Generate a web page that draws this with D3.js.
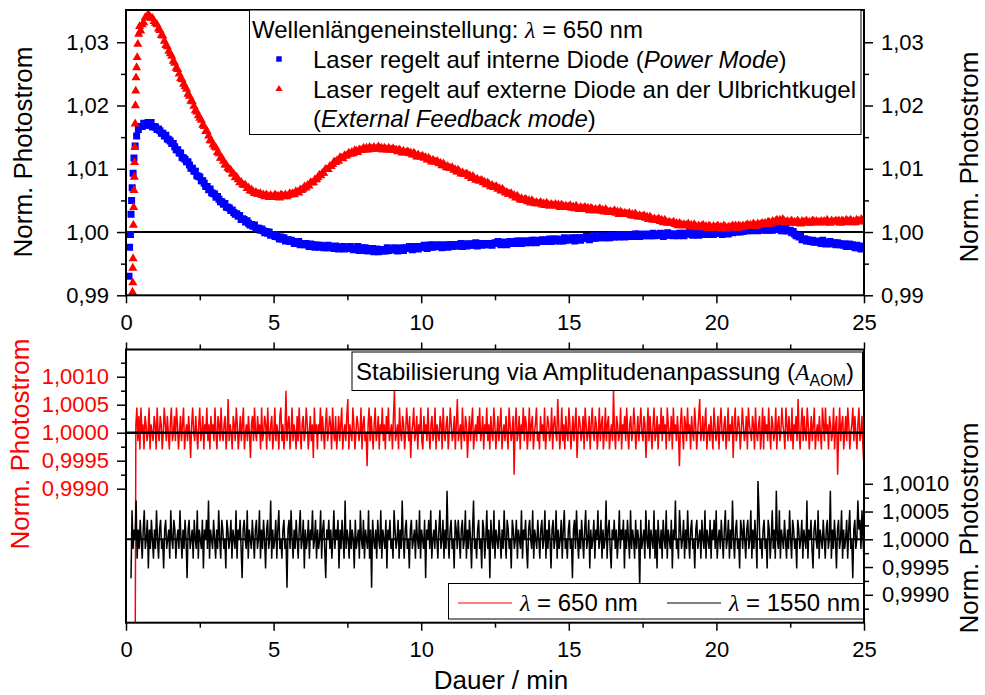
<!DOCTYPE html>
<html lang="de">
<head>
<meta charset="utf-8">
<script src="https://cdn.jsdelivr.net/npm/d3@7"></script>
<style>
  body { margin: 0; background: #fff; }
  svg { display: block; font-family: "Liberation Sans", Arial, sans-serif; }
  .axis path { display: none; }
  .axis line { stroke: #000; stroke-width: 1.5; }
  .axis text { font-size: 22px; fill: #000; font-family: "Liberation Sans", Arial, sans-serif; }
  .title { font-size: 26px; text-anchor: middle; }
  .legend { font-size: 24px; }
  .sym { font-family: "Liberation Serif", "DejaVu Serif", serif; font-style: italic; }
</style>
</head>
<body>
<div id="chart"></div>
<script>
// Warm-up at 650 nm. Values are deviations from 1 in units of 1e-4.
// The first seconds were logged faster and carry their own time stamps (min).
var riseBlueTime = [0.10, 0.12, 0.15, 0.17, 0.19, 0.21, 0.24, 0.27, 0.31, 0.36, 0.42];
var riseBlue = [-70, -24, -4, 28, 50, 70, 93, 117, 136, 152, 162];
var riseRedTime = [0.22, 0.23, 0.23, 0.24, 0.25, 0.26, 0.27, 0.28, 0.29, 0.30, 0.31, 0.32, 0.33, 0.34, 0.36, 0.38, 0.40, 0.43, 0.46];
var riseRed = [-95, -80, -57, -42, 11, 39, 66, 87, 110, 134, 171, 200, 223, 244, 260, 276, 297, 313, 325];

// afterwards one sample every 0.05 min from 0.5 min on
var sampleStart = 0.5, sampleStep = 0.05;
var powerMode = [
  167, 167, 172, 171, 169, 173, 169, 173, 166, 167, 166, 162, 163, 160, 156, 156, 152, 153, 147, 146,
  144, 140, 140, 135, 130, 130, 125, 125, 118, 117, 115, 111, 111, 106, 101, 101, 96, 96, 89, 88,
  87, 81, 81, 77, 72, 72, 67, 68, 62, 61, 60, 55, 56, 52, 48, 48, 44, 45, 39, 39,
  38, 34, 35, 31, 28, 29, 25, 26, 20, 21, 20, 16, 18, 14, 11, 12, 9, 11, 6, 6,
  6, 3, 5, 2, -1, 1, -2, 0, -5, -4, -4, -7, -5, -8, -11, -8, -11, -9, -14, -12,
  -12, -15, -13, -15, -18, -15, -18, -15, -20, -18, -18, -20, -18, -20, -23, -19, -22, -20, -24, -21,
  -21, -24, -21, -22, -25, -23, -25, -21, -25, -24, -23, -26, -22, -24, -27, -25, -25, -23, -27, -24,
  -25, -26, -23, -26, -28, -26, -27, -23, -29, -26, -25, -29, -25, -26, -30, -28, -28, -26, -31, -28,
  -27, -31, -28, -28, -30, -28, -30, -25, -29, -28, -27, -28, -25, -28, -30, -26, -27, -25, -29, -26,
  -25, -26, -23, -26, -28, -23, -25, -23, -27, -24, -23, -24, -21, -24, -26, -21, -24, -20, -24, -21,
  -22, -23, -20, -23, -25, -21, -22, -20, -24, -21, -20, -23, -20, -20, -22, -20, -22, -18, -23, -20,
  -19, -22, -19, -19, -21, -19, -21, -17, -22, -19, -18, -21, -18, -18, -20, -18, -20, -18, -21, -18,
  -17, -18, -15, -18, -20, -16, -18, -16, -20, -17, -15, -18, -15, -16, -18, -14, -16, -14, -18, -15,
  -14, -17, -14, -15, -17, -13, -15, -13, -17, -14, -14, -15, -12, -13, -15, -13, -15, -11, -15, -12,
  -11, -14, -11, -12, -14, -12, -14, -9, -13, -12, -11, -12, -9, -12, -14, -9, -11, -9, -13, -10,
  -9, -10, -7, -10, -12, -8, -10, -6, -10, -9, -8, -9, -6, -7, -9, -7, -9, -5, -9, -6,
  -5, -8, -5, -6, -8, -4, -6, -4, -8, -5, -4, -7, -4, -5, -7, -3, -5, -3, -7, -6,
  -5, -6, -3, -4, -6, -4, -6, -2, -6, -5, -4, -5, -2, -5, -7, -3, -5, -1, -5, -4,
  -3, -6, -3, -4, -6, -2, -4, -2, -6, -3, -2, -3, 0, -3, -5, -1, -3, -1, -5, -4,
  -3, -4, -1, -2, -4, 0, -2, 0, -4, -1, -1, -2, 1, -2, -4, 1, -1, 1, -3, 0,
  2, -1, 2, 2, 0, 2, 0, 5, 1, 2, 3, 2, 5, 4, 2, 6, 4, 6, 2, 5,
  6, 3, 6, 5, 3, 5, 3, 7, 3, 4, 5, 4, 7, 4, 2, 4, 2, 6, 2, 2,
  3, -1, 1, -3, -6, -5, -8, -7, -12, -11, -11, -14, -12, -14, -15, -13, -16, -14, -16, -15,
  -15, -18, -13, -16, -19, -17, -17, -15, -19, -18, -17, -20, -17, -18, -20, -19, -21, -19, -23, -20,
  -19, -23, -20, -23, -25, -21, -25, -22, -27, -24, -24
];
var feedbackMode = [
  318, 328, 331, 339, 339, 344, 341, 338, 338, 333, 330, 328, 321, 319, 311, 310, 302, 295, 293, 286,
  282, 278, 270, 267, 259, 257, 250, 243, 241, 234, 230, 226, 218, 215, 207, 206, 199, 192, 190, 184,
  180, 177, 169, 167, 159, 159, 152, 145, 144, 138, 135, 133, 126, 124, 117, 117, 112, 106, 106, 101,
  99, 98, 92, 92, 86, 87, 83, 78, 79, 75, 74, 74, 69, 70, 65, 67, 64, 61, 63, 60,
  60, 61, 58, 59, 56, 59, 57, 55, 58, 55, 56, 59, 56, 57, 54, 59, 57, 56, 59, 56,
  58, 61, 59, 61, 59, 64, 63, 62, 67, 66, 68, 72, 70, 74, 73, 78, 78, 78, 83, 83,
  86, 90, 89, 93, 93, 99, 99, 99, 104, 104, 107, 111, 110, 113, 112, 118, 117, 116, 121, 120,
  122, 125, 123, 126, 124, 129, 128, 126, 130, 129, 130, 133, 130, 133, 130, 134, 132, 131, 134, 131,
  132, 135, 132, 133, 130, 133, 131, 130, 133, 130, 130, 132, 129, 130, 127, 130, 128, 125, 128, 125,
  126, 127, 124, 125, 122, 125, 122, 119, 122, 119, 119, 120, 117, 118, 114, 117, 114, 111, 114, 111,
  111, 112, 108, 109, 105, 108, 105, 102, 104, 101, 101, 102, 98, 99, 95, 98, 95, 92, 94, 91,
  91, 92, 88, 89, 85, 88, 85, 82, 84, 81, 81, 82, 78, 79, 75, 78, 75, 72, 74, 71,
  71, 72, 68, 69, 65, 68, 65, 62, 63, 60, 60, 61, 57, 58, 54, 57, 54, 51, 53, 50,
  51, 52, 48, 50, 46, 50, 47, 45, 47, 45, 45, 47, 43, 45, 42, 46, 43, 41, 44, 42,
  42, 44, 41, 43, 39, 43, 41, 39, 41, 39, 40, 42, 38, 40, 37, 41, 38, 36, 39, 37,
  37, 39, 36, 38, 34, 38, 36, 34, 36, 34, 35, 37, 33, 35, 32, 36, 33, 31, 33, 31,
  32, 34, 30, 32, 28, 32, 30, 28, 30, 28, 28, 30, 26, 28, 25, 29, 26, 24, 26, 24,
  24, 26, 22, 24, 20, 24, 21, 19, 21, 19, 19, 21, 17, 19, 15, 19, 16, 14, 16, 14,
  14, 16, 12, 14, 10, 14, 12, 10, 12, 10, 11, 13, 9, 11, 8, 12, 9, 7, 10, 8,
  9, 11, 7, 9, 6, 10, 8, 6, 9, 7, 8, 10, 6, 8, 5, 10, 8, 5, 8, 7,
  8, 10, 8, 10, 6, 10, 9, 7, 10, 8, 10, 12, 9, 11, 9, 13, 11, 9, 13, 11,
  12, 14, 12, 14, 12, 16, 15, 13, 17, 15, 17, 19, 16, 19, 16, 20, 17, 15, 17, 15,
  16, 18, 14, 16, 14, 18, 15, 13, 17, 15, 16, 18, 14, 16, 14, 18, 17, 15, 17, 15,
  15, 17, 15, 17, 15, 19, 16, 14, 18, 16, 16, 18, 16, 18, 14, 18, 17, 15, 19, 17,
  17, 19, 15, 17, 15, 19, 18, 16, 20, 18, 18
];

// AOM amplitude stabilisation: ADC counts around 1, evenly spaced until 25 min
var aomEnd = 25;
var start650 = 0.30, step650 = 150e-6;
var aom650 = [
  -40, 1, 3, -1, 2, -2, 3, 0, 1, -2, 2, 1, -1, 0, 3, -2, 1, 0, -1, 2,
  1, -2, 3, 0, -1, 2, 1, -2, 0, 3, 1, -1, 2, 0, -2, 1, 3, -1, 0, 2,
  -1, 3, 1, -2, 0, 2, -1, 1, 3, -2, 0, 1, -1, 2, 0, -3, 1, 3, 0, -1,
  2, 0, -2, 1, 3, -1, 0, 2, -2, 1, 0, 3, -1, 1, -2, 2, 0, 1, -1, 3,
  0, -2, 2, 1, -1, 3, 0, -1, 1, 2, -2, 0, 4, -1, 1, 0, -2, 2, 1, -1,
  3, 1, -2, 0, 2, -1, 1, 3, -2, 0, 1, -1, 2, 0, -3, 1, 2, -1, 3, 0,
  -1, 2, 0, 1, -2, 3, -1, 0, 2, 1, -2, 3, 0, -1, 1, 2, -2, 0, 3, -1,
  1, 0, -2, 2, 3, -1, 1, -2, 0, 5, -1, 1, 2, -2, 0, 3, -1, 1, 0, -2,
  2, -1, 3, 0, -2, 1, 2, -1, 0, 3, 1, -2, 0, 2, -1, 1, -3, 3, 0, 1,
  -2, 1, 0, 3, -1, 2, 0, -2, 1, 3, -1, 0, 2, 1, -2, 3, 0, -1, 2, -2,
  0, 2, -1, 1, 3, -2, 0, 1, -1, 2, 4, -2, 1, 0, -1, 3, 1, -2, 0, 2,
  1, -1, 0, 3, -2, 1, 2, -1, 0, -4, 1, 3, -1, 2, 0, -2, 1, 3, -1, 0,
  2, -2, 1, 0, 3, -1, 1, -2, 2, 0, 3, -1, 0, 1, -2, 2, 5, -1, 0, 1,
  -2, 3, 0, -1, 2, 1, -2, 0, 3, 1, -1, 2, -3, 0, 1, 3, -1, 0, 2, -2,
  1, 0, 3, -1, -2, 2, 0, 1, -1, 3, 0, -2, 1, 2, -1, 0, 3, -2, 1, 0,
  -1, 2, 1, -2, 3, 0, -1, 1, 2, -2, 0, 3, 1, -1, 0, 2, -2, 1, 4, -1,
  0, 1, -2, 3, 0, -1, 2, 1, -3, 0, 2, -1, 1, 3, -2, 0, 1, -1, 2, 0,
  3, -1, 0, 2, -2, 1, 0, 3, -1, 1, -2, 2, 0, -1, 3, 1, -2, 0, 2, -1,
  1, 3, -2, 0, 1, -1, 2, 0, -2, 3, 1, -1, 0, 2, -5, 1, 3, -1, 0, 2,
  -2, 1, 0, 3, -1, 2, 1, -2, 0, 3, -1, 1, 2, -2, 0, 1, 3, -1, 0, -2,
  2, 0, 1, -1, 3, -2, 0, 2, 1, -1, 0, 3, -2, 1, 2, 0, -1, 4, 1, -2,
  0, 3, -1, 1, -2, 2, 0, -1, 3, 1, -2, 0, 2, -1, 1, 3, -3, 0, 2, 1,
  -1, 0, 2, -2, 3, 1, -1, 0, 2, -2, 1, 3, 0, -1, 2, 1, -2, 0, 3, -1,
  1, 2, -2, 0, 3, -1, 1, 2, -2, 0, 1, -1, 5, 0, -2, 2, 1, -1, 0, 3,
  -2, 1, 0, 2, -1, 3, 0, -2, 1, 2, -1, 0, 3, 1, -2, 0, 2, -1, 1, 3,
  0, -1, 2, 1, -3, 0, 3, -1, 2, 0, -2, 1, 3, -1, 0, 2, -2, 1, 0, 3,
  -1, 2, 0, 1, -2, 3, 1, -1, 0, 2, -2, 3, 0, 1, -1, 2, 0, -4, 1, 3,
  0, -2, 2, 1, -1, 3, 0, 1, -2, 2, 0, -1, 3, 1, -2, 0, 2, 4, -1, 0,
  2, -1, 1, 3, -2, 0, 1, -1, 2, 0, -2, 3, 1, -1, 0, 2, -2, 1, 3, 0,
  -1, 1, 2, -2, 0, 3, -1, 1, 0, 2, -3, 1, 3, -1, 0, 2, 1, -2, 0, 3,
  1, -1, 0, 2, -2, 3, 1, 0, -1, 2, 1, -2, 3, 0, -1, 1, 2, -2, 0, 3,
  -2, 2, 0, 1, -1, 3, 0, -2, 2, 1, -1, 0, 3, -2, 1, 2, -1, 0, 3, 1,
  0, -2, 3, 1, -1, 2, 0, -1, 3, -2, 1, 0, 2, -1, 4, 0, -2, 1, 3, -1,
  2, 0, -1, 3, 1, -2, 0, 2, -1, 1, 3, -2, 0, 1, -1, 2, 0, -2, 3, 1,
  -1, 3, 0, 1, -2, 2, 1, -1, 0, 3, -2, 1, 2, -5, 0, 3, -1, 1, 2, -2,
  0, 2, -1, 3, 1, -2, 0, 1, 3, -1, 2, 0, -2, 1, 3, -1, 0, 2, -2, -4
];
var start1550 = 0.17, step1550 = 175e-6;
var aom1550 = [
  -4, 3, -1, 1, 0, 4, -2, 1, -1, 2, 0, -2, 1, 3, -1, 0, 2, -3, 1, -1,
  2, 0, -2, 1, -1, 3, 0, -2, 1, 2, -1, 0, -3, 1, 2, -1, 0, 1, -2, 3,
  0, -1, 2, 1, -2, 0, 1, -1, 3, 0, -2, 1, -1, 2, 0, -4, 1, 2, -1, 0,
  1, -2, 2, 0, -1, 3, -2, 1, 0, -1, 2, -3, 1, 0, 2, -1, 4, -2, 1, 0,
  -1, 2, 0, -2, 1, -1, 3, 0, -2, 2, 1, -1, 0, -3, 2, 1, -1, 0, 2, -2,
  1, 0, -1, 3, -2, 1, 0, 2, -1, -4, 1, 2, 0, -1, 3, -2, 1, 0, -1, 2,
  0, -2, 1, 2, -1, 0, 3, -2, 1, -1, 2, 0, -3, 1, 2, -1, 0, 4, -2, 1,
  -1, 0, 2, -2, 1, 3, -1, 0, -2, 1, 2, -1, 0, -5, 1, 2, -1, 3, 0, -2,
  1, -1, 2, 0, -2, 1, 3, -1, 0, 2, -3, 1, -1, 0, 2, -2, 1, 0, 3, -1,
  0, 2, -2, 1, -1, 0, 3, -2, 1, 2, -1, -4, 1, 0, 2, -1, 1, -2, 0, 3,
  -1, 1, 0, 2, -3, 1, -1, 2, 0, -2, 4, -1, 1, 0, -2, 2, -1, 1, 0, -3,
  2, -1, 0, 1, -2, 3, 0, -1, 2, -2, 1, 0, -1, 3, -2, 1, -5, 2, 0, -1,
  1, -2, 2, 0, -1, 3, -2, 1, 0, -1, 2, -3, 1, 0, 2, -1, 0, -2, 3, 1,
  -1, 0, 2, -2, 1, -1, 4, 0, -2, 1, 2, -1, 0, -3, 1, 2, -1, 0, 1, -2,
  2, 0, -1, 3, -2, 1, 0, -1, 2, -4, 1, 0, 2, -1, 3, -2, 0, 1, -1, 2,
  0, -2, 1, 3, -1, 0, 2, -2, 1, -1, 5, 0, -2, 1, 2, -1, 0, -3, 2, 1,
  -1, 2, 0, -2, 1, 2, -1, 0, 3, -2, 1, -1, 2, 0, -3, 1, 4, -1, 0, -2,
  1, 2, -1, 0, -3, 2, 1, -2, 0, 3, -1, 1, -4, 2, 0, -1, 3, -2, 1, 0,
  -1, 2, 0, -2, 1, -1, 3, 0, -2, 2, 1, -1, 0, -3, 2, 1, -1, 0, 2, -2,
  1, 0, -1, 3, -2, 1, 0, 2, -1, -3, 1, 2, 0, -1, 3, -2, 1, 0, -1, 2,
  0, -2, 1, 2, -1, 0, 3, -2, 1, -1, 2, 0, -3, 1, 2, -1, 0, 3, -2, 1,
  -1, 0, 2, -2, 1, 3, -1, 0, -2, 1, 2, -1, 0, -4, 1, 2, -1, 3, 0, -2,
  1, -1, 2, 0, -2, 1, 3, -1, 0, 2, -3, 1, -1, 0, 2, -2, 1, 0, 3, -1,
  0, 2, -2, 1, -1, 0, 4, -2, 1, 2, -1, -3, 1, 0, 2, -1, 1, -2, 0, 3,
  -1, 1, 0, 2, -3, 1, -1, 2, 0, -2, 3, -1, 1, 0, -2, 2, -1, 1, 0, -5,
  2, -1, 0, 1, -2, 3, 0, -1, 2, -2, 1, 0, -1, 3, -2, 1, -3, 2, 0, -1,
  1, -2, 2, 0, -1, 3, -2, 1, 0, -1, 2, -3, 1, 0, 4, -1, 0, -2, 3, 1,
  -1, 0, 2, -2, 1, -1, 3, 0, -2, 1, 2, -1, 0, -3, 1, 2, -1, 0, 1, -2,
  2, 0, -1, 3, -2, 1, 0, -1, 2, -2, 1, 0, 2, -1, 3, -2, 0, 1, -1, 2,
  0, -2, 1, 3, -1, 0, 2, -2, 1, -1, 4, 0, -2, 1, 2, -1, 0, -3, 2, 1,
  -1, 2, 0, -2, 1, 2, -1, 0, 3, -2, 1, -1, 2, 0, -3, 6, 3, -1, 0, -2,
  1, 2, -1, 0, -3, 2, 1, -2, 0, 3, -1, 1, -2, 5, 0, -1, 3, -2, 1, 0,
  -1, 2, 0, -2, 1, -1, 3, 0, -2, 2, 1, -1, 0, -3, 2, 1, -1, 0, 2, -2,
  1, 0, -1, 4, -2, 1, 0, 2, -1, -3, 1, 2, 0, -1, 3, -2, 1, 0, -1, 2,
  0, -2, 1, 2, -1, 0, 5, -2, 1, -1, 2, 0, -3, 1, 2, -1, 0, 3, -2, 1,
  -1, 0, 2, -2, 1, 3, -1, 0, -4, 1, 2, -1, 0, 4, 1, 2, -1, 3, 0, -2
];

// axis ticks
var timeMajor = [0, 5, 10, 15, 20, 25];
var timeMinor = [2.5, 7.5, 12.5, 17.5, 22.5];
var topMajor = [0.99, 1.00, 1.01, 1.02, 1.03];
var topMinor = [0.995, 1.005, 1.015, 1.025];
var aomMajor = [0.9990, 0.9995, 1.0000, 1.0005, 1.0010];
var aomMinorLeft = [0.99925, 0.99975, 1.00025, 1.00075, 1.00125];
var aomMinorRight = [0.99875, 0.99925, 0.99975, 1.00025, 1.00075];

// ---------------------------------------------------------------
var svgWidth = 985, svgHeight = 695;
var left = 126, right = 864;
var topPanel = {top: 10, bottom: 295.3};
var lowPanel = {top: 349.5, bottom: 622.7};

var svg = d3.select("#chart").append("svg")
  .attr("width", svgWidth)
  .attr("height", svgHeight);

var de = d3.formatLocale({decimal: ",", thousands: ".", grouping: [3], currency: ["", " €"]});
var fmt2 = de.format(".2f"), fmt4 = de.format(".4f");
var none = function() { return ""; };

var x = d3.scaleLinear().domain([0, 25]).range([left, right]);
var yTop = d3.scaleLinear().domain([0.99, 1.0351]).range([topPanel.bottom, topPanel.top]);
var yRed = d3.scaleLinear().domain([0.996607, 1.001486]).range([lowPanel.bottom, lowPanel.top]);
var yBlack = d3.scaleLinear().domain([0.998497, 1.00342]).range([lowPanel.bottom, lowPanel.top]);

// build point lists
function warmup(riseT, riseV, series) {
  return riseT.map(function(t, i) { return {t: t, v: 1 + riseV[i] * 1e-4}; })
    .concat(series.map(function(d, i) { return {t: sampleStart + i * sampleStep, v: 1 + d * 1e-4}; }));
}
var blueData = warmup(riseBlueTime, riseBlue, powerMode);
var redData = warmup(riseRedTime, riseRed, feedbackMode);

function spread(counts, t0, step) {
  var dt = (aomEnd - t0) / (counts.length - 1);
  return counts.map(function(c, i) { return {t: t0 + i * dt, v: 1 + c * step}; });
}
var data650 = spread(aom650, start650, step650);
var data1550 = spread(aom1550, start1550, step1550);

// clip regions
var defs = svg.append("defs");
defs.append("clipPath").attr("id", "clipTop").append("rect")
  .attr("x", left).attr("y", topPanel.top).attr("width", right - left).attr("height", topPanel.bottom - topPanel.top);
defs.append("clipPath").attr("id", "clipLow").append("rect")
  .attr("x", left).attr("y", lowPanel.top).attr("width", right - left).attr("height", lowPanel.bottom - lowPanel.top);

// ---- upper panel --------------------------------------------------
var upper = svg.append("g").attr("clip-path", "url(#clipTop)");

upper.append("line")
  .attr("x1", left).attr("x2", right)
  .attr("y1", yTop(1)).attr("y2", yTop(1))
  .attr("stroke", "#000").attr("stroke-width", 2);

upper.selectAll(".sq").data(blueData).enter().append("path")
  .attr("class", "sq")
  .attr("d", d3.symbol(d3.symbolSquare, 49))
  .attr("transform", function(d) { return "translate(" + x(d.t) + "," + yTop(d.v) + ")"; })
  .attr("fill", "#0000ff");

upper.selectAll(".tri").data(redData).enter().append("path")
  .attr("class", "tri")
  .attr("d", d3.symbol(d3.symbolTriangle, 36))
  .attr("transform", function(d) { return "translate(" + x(d.t) + "," + yTop(d.v) + ")"; })
  .attr("fill", "#ff0000");

// ---- lower panel --------------------------------------------------
var lower = svg.append("g").attr("clip-path", "url(#clipLow)");

lower.append("path").datum(data650)
  .attr("fill", "none").attr("stroke", "#ff0000").attr("stroke-width", 1.5)
  .attr("d", d3.line().x(function(d) { return x(d.t); }).y(function(d) { return yRed(d.v); }));

lower.append("path").datum(data1550)
  .attr("fill", "none").attr("stroke", "#000").attr("stroke-width", 1.5)
  .attr("d", d3.line().x(function(d) { return x(d.t); }).y(function(d) { return yBlack(d.v); }));

lower.append("line")
  .attr("x1", left).attr("x2", right)
  .attr("y1", yRed(1)).attr("y2", yRed(1))
  .attr("stroke", "#000").attr("stroke-width", 2.5);
lower.append("line")
  .attr("x1", left).attr("x2", right)
  .attr("y1", yBlack(1)).attr("y2", yBlack(1))
  .attr("stroke", "#000").attr("stroke-width", 2);

// ---- axes ---------------------------------------------------------
function axis(gen, values, size, format, tx, ty) {
  return svg.append("g").attr("class", "axis")
    .attr("transform", "translate(" + tx + "," + ty + ")")
    .call(gen.tickValues(values).tickSize(size).tickSizeOuter(0).tickPadding(size ? 19 - size : 0).tickFormat(format));
}

// upper panel
axis(d3.axisBottom(x), timeMajor, 8, d3.format("d"), 0, topPanel.bottom);
axis(d3.axisBottom(x), timeMinor, 5, none, 0, topPanel.bottom);
axis(d3.axisLeft(yTop), topMajor, 9, fmt2, left, 0).call(function(g) { g.selectAll("text").attr("dx", 2); });
axis(d3.axisLeft(yTop), topMinor, 5, none, left, 0);
axis(d3.axisRight(yTop), topMajor, 9, fmt2, right, 0).call(function(g) { g.selectAll("text").attr("dx", -2); });
axis(d3.axisRight(yTop), topMinor, 5, none, right, 0);

// lower panel
axis(d3.axisBottom(x), timeMajor, 8, d3.format("d"), 0, lowPanel.bottom);
axis(d3.axisBottom(x), timeMinor, 5, none, 0, lowPanel.bottom);
axis(d3.axisTop(x), timeMajor, 7, none, 0, lowPanel.top);
axis(d3.axisTop(x), timeMinor, 5, none, 0, lowPanel.top);
axis(d3.axisLeft(yRed), aomMajor, 9, fmt4, left, 0)
  .call(function(g) { g.selectAll("text").attr("dx", 2).style("fill", "#ff0000"); });
axis(d3.axisLeft(yRed), aomMinorLeft, 5, none, left, 0);
axis(d3.axisRight(yBlack), aomMajor, 9, fmt4, right, 0).call(function(g) { g.selectAll("text").attr("dx", -1); });
axis(d3.axisRight(yBlack), aomMinorRight, 5, none, right, 0);

// frames
[topPanel, lowPanel].forEach(function(p) {
  svg.append("rect")
    .attr("x", left).attr("y", p.top)
    .attr("width", right - left).attr("height", p.bottom - p.top)
    .attr("fill", "none").attr("stroke", "#000").attr("stroke-width", 2);
});

// ---- axis titles --------------------------------------------------
function vTitle(cx, cy, label, color) {
  svg.append("text").attr("class", "title")
    .attr("transform", "translate(" + cx + "," + cy + ") rotate(-90)")
    .attr("dy", "0.35em")
    .style("fill", color)
    .text(label);
}
vTitle(23, 152, "Norm. Photostrom", "#000");
vTitle(969, 157, "Norm. Photostrom", "#000");
vTitle(20, 444, "Norm. Photostrom", "#ff0000");
vTitle(969, 528, "Norm. Photostrom", "#000");

svg.append("text").attr("class", "title")
  .attr("x", 501).attr("y", 689)
  .text("Dauer / min");

// ---- legends ------------------------------------------------------
var leg1 = svg.append("g").attr("class", "legend");
leg1.append("rect")
  .attr("x", 249.5).attr("y", 10).attr("width", 611.5).attr("height", 124.5)
  .attr("fill", "#fff").attr("stroke", "#000").attr("stroke-width", 1);

var l1 = leg1.append("text").attr("x", 252).attr("y", 38);
l1.append("tspan").text("Wellenlängeneinstellung: ");
l1.append("tspan").attr("class", "sym").text("λ");
l1.append("tspan").text(" = 650 nm");

leg1.append("path")
  .attr("d", d3.symbol(d3.symbolSquare, 30))
  .attr("transform", "translate(279,59)").attr("fill", "#0000ff");
var l2 = leg1.append("text").attr("x", 313).attr("y", 67.5);
l2.append("tspan").text("Laser regelt auf interne Diode (");
l2.append("tspan").style("font-style", "italic").text("Power Mode");
l2.append("tspan").text(")");

leg1.append("path")
  .attr("d", d3.symbol(d3.symbolTriangle, 22))
  .attr("transform", "translate(279,89)").attr("fill", "#ff0000");
leg1.append("text").attr("x", 313).attr("y", 97.5)
  .text("Laser regelt auf externe Diode an der Ulbrichtkugel");
var l4 = leg1.append("text").attr("x", 313).attr("y", 126.5);
l4.append("tspan").text("(");
l4.append("tspan").style("font-style", "italic").text("External Feedback mode");
l4.append("tspan").text(")");

var leg2 = svg.append("g").attr("class", "legend");
leg2.append("rect")
  .attr("x", 352).attr("y", 352).attr("width", 510.5).attr("height", 38.5)
  .attr("fill", "#fff").attr("stroke", "#000").attr("stroke-width", 1);
var s = leg2.append("text").attr("x", 356).attr("y", 380);
s.append("tspan").text("Stabilisierung via Amplitudenanpassung (");
s.append("tspan").attr("class", "sym").text("A");
s.append("tspan").attr("dy", 6).style("font-size", "16px").text("AOM");
s.append("tspan").attr("dy", -6).text(")");

var leg3 = svg.append("g").attr("class", "legend");
leg3.append("rect")
  .attr("x", 448.5).attr("y", 583.5).attr("width", 415).attr("height", 35.5)
  .attr("fill", "#fff").attr("stroke", "#000").attr("stroke-width", 1);
[{x1: 458, label: "650", color: "#ff0000"}, {x1: 667, label: "1550", color: "#000"}].forEach(function(e) {
  leg3.append("line")
    .attr("x1", e.x1).attr("x2", e.x1 + 54).attr("y1", 603).attr("y2", 603)
    .attr("stroke", e.color).attr("stroke-width", 1);
  var t = leg3.append("text").attr("x", e.x1 + 62).attr("y", 611);
  t.append("tspan").attr("class", "sym").text("λ");
  t.append("tspan").text(" = " + e.label + " nm");
});
</script>
</body>
</html>
